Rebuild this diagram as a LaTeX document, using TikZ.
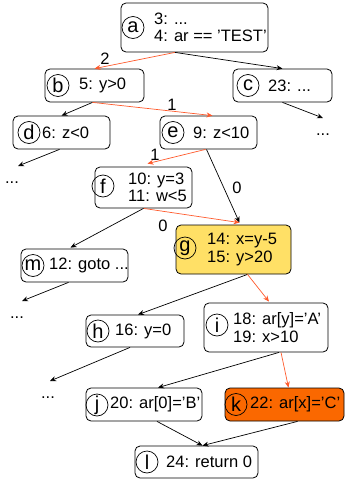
\documentclass[tikz,border=0pt]{standalone}
\usepackage{fontspec}
\setmainfont{Liberation Sans}
\usetikzlibrary{arrows.meta}
\definecolor{hitfill}{HTML}{FFE066}
\definecolor{crashfill}{HTML}{FA6800}
\definecolor{pathred}{HTML}{FF5A2C}
\tikzset{
  blk/.style={draw,rounded corners=5pt,line width=0.8pt,inner sep=0pt},
  tag/.style={draw,circle,line width=0.7pt,inner sep=0pt,minimum size=22pt,
    font=\fontsize{20}{20}\selectfont},
  stmt/.style={anchor=west,align=left,inner sep=0pt},
  flow/.style={-{Stealth[length=6pt,width=5pt]},line width=0.7pt},
  hot/.style={flow,pathred},
  etc/.style={inner sep=0pt,text height=17pt,text depth=0pt,anchor=north},
  num/.style={inner sep=0pt},
}
\begin{document}
\begin{tikzpicture}[x=1pt,y=-1pt,font=\fontsize{16.5}{17.5}\selectfont]
        \useasboundingbox (0,0) rectangle (345,485);
        % blocks
        \node[blk,minimum width=147pt,minimum height=49pt] (a) at (194.5,27.5) {};
        \node[tag] (ta) at (133,27.5) {a};
        \node[stmt] (sa) at (154,27.5) {3: ...\\4: ar == 'TEST'};
        \node[blk,minimum width=99pt,minimum height=33pt] (b) at (94.5,85.5) {};
        \node[tag] (tb) at (58,85.5) {b};
        \node[stmt] (sb) at (79,85.5) {5: y>0};
        \node[blk,minimum width=99pt,minimum height=33pt] (c) at (282.5,85.5) {};
        \node[tag] (tc) at (248,85.5) {c};
        \node[stmt] (sc) at (268,85.5) {23: ...};
        \node[blk,minimum width=97pt,minimum height=33pt] (d) at (61.5,132.5) {};
        \node[tag] (td) at (29,132.5) {d};
        \node[stmt] (sd) at (42,132.5) {6: z<0};
        \node[blk,minimum width=97pt,minimum height=33pt] (e) at (208.5,132.5) {};
        \node[tag] (te) at (173,132.5) {e};
        \node[stmt] (se) at (193,132.5) {9: z<10};
        \node[blk,minimum width=97pt,minimum height=41pt] (f) at (143.5,187.5) {};
        \node[tag] (tf) at (103,186) {f};
        \node[stmt] (sf) at (128,187.5) {10: y=3\\11: w<5};
        \node[blk,fill=hitfill,minimum width=115pt,minimum height=49pt] (g) at (233.5,249.5) {};
        \node[tag] (tg) at (185,248) {g};
        \node[stmt] (sg) at (207,249.5) {14: x=y-5\\15: y>20};
        \node[blk,minimum width=107pt,minimum height=33pt] (m) at (74.5,265.5) {};
        \node[tag] (tm) at (33,265.5) {m};
        \node[stmt] (sm) at (49,265.5) {12: goto ...};
        \node[blk,minimum width=98pt,minimum height=32pt] (h) at (135,331) {};
        \node[tag] (th) at (98,331) {h};
        \node[stmt] (sh) at (115,331) {16: y=0};
        \node[blk,minimum width=124pt,minimum height=49pt] (i) at (266,327.5) {};
        \node[tag] (ti) at (217,325) {i};
        \node[stmt] (si) at (233,327.5) {18: ar[y]='A'\\19: x>10};
        \node[blk,minimum width=116pt,minimum height=33pt] (j) at (144,404.5) {};
        \node[tag] (tj) at (97,405) {j};
        \node[stmt] (sj) at (110,404.5) {20: ar[0]='B'};
        \node[blk,fill=crashfill,minimum width=119pt,minimum height=33pt] (k) at (284.5,404.5) {};
        \node[tag] (tk) at (236,404.5) {k};
        \node[stmt] (sk) at (250,404.5) {22: ar[x]='C'};
        \node[blk,minimum width=123pt,minimum height=32pt] (l) at (196.5,462) {};
        \node[tag] (tl) at (147,462) {l};
        \node[stmt] (sl) at (166,462) {24: return 0};
        % elided parts
        \node[etc] (cdots) at (323,118) {...};
        \node[etc] (ddots) at (12,166) {...};
        \node[etc] (mdots) at (17,301) {...};
        \node[etc] (hdots) at (48,381) {...};
        % branches
        \draw[hot] ([xshift=-19.5pt]a.south) -- (b.north);
        \draw[flow] ([xshift=-19.5pt]a.south) -- (c.north);
        \draw[flow] ([xshift=-2pt]b.south) -- (d.north);
        \draw[hot] ([xshift=-2pt]b.south) -- ([xshift=4pt]e.north);
        \draw[flow] (c.south) -- (cdots.north);
        \draw[flow] ([xshift=-2pt]d.south) -- ([xshift=6pt]ddots.north);
        \draw[hot] ([xshift=-3pt]e.south) -- ([xshift=4pt,yshift=3pt]f.north);
        \draw[flow] ([xshift=-2pt]e.south) -- ([xshift=6pt,yshift=2pt]g.north);
        \draw[hot] (f.south) -- ([xshift=6pt,yshift=2pt]g.north);
        \draw[flow] (f.south) -- ([xshift=-4pt,yshift=1pt]m.north);
        \draw[flow] ([xshift=-6pt]m.south) -- ([xshift=5pt]mdots.north);
        \draw[flow] ([xshift=14pt]g.south) -- ([xshift=3pt]h.north);
        \draw[hot] ([xshift=14pt]g.south) -- ([xshift=3pt,yshift=1pt]i.north);
        \draw[flow] ([xshift=-5pt]h.south) -- ([xshift=2pt]hdots.north);
        \draw[flow] ([xshift=13pt]i.south) -- ([xshift=14pt]j.north);
        \draw[hot] ([xshift=15pt]i.south) -- ([xshift=4pt]k.north);
        \draw[flow] ([xshift=13pt]j.south) -- ([xshift=6pt]l.north);
        \draw[flow] ([xshift=13pt]k.south) -- ([xshift=6pt]l.north);
        % edge weights
        \node[num] (w2) at (105,59) {2};
        \node[num] (w1b) at (172,105) {1};
        \node[num] (w1e) at (155,155) {1};
        \node[num] (w0e) at (237,188) {0};
        \node[num] (w0f) at (163,226) {0};
      \end{tikzpicture}
\end{document}
